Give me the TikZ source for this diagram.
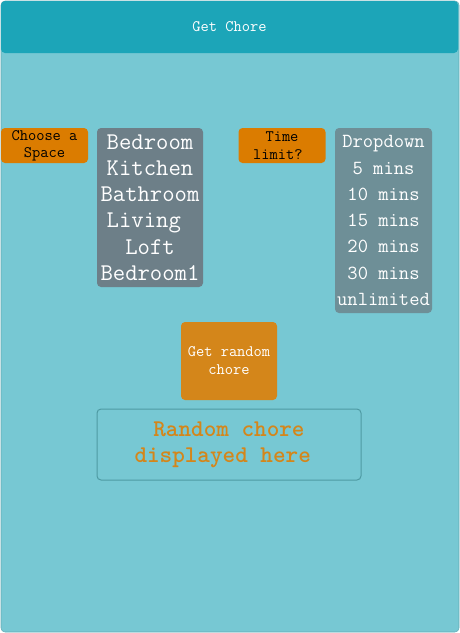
\documentclass[tikz,border=0pt]{standalone}
\renewcommand{\familydefault}{\ttdefault}
\usetikzlibrary{positioning}
\definecolor{pagecolour}{HTML}{77C8D3}
\definecolor{headcolour}{HTML}{1CA5B8}
\definecolor{labelcolour}{HTML}{DB7C00}
\definecolor{listcolour}{HTML}{6D7F88}
\definecolor{dropcolour}{HTML}{6E8F97}
\definecolor{buttoncolour}{HTML}{D4861A}
\definecolor{framecolour}{HTML}{4E9AA3}

\begin{document}
\begin{tikzpicture}[
  x=0.75pt, y=-0.75pt,
  box/.style = {rounded corners=3pt, inner sep=0pt, align=center},
  tag/.style = {box, fill=labelcolour, minimum width=65.25pt, minimum height=26.25pt, font=\fontsize{12}{13}\selectfont, text=black},
  list/.style = {box, text=white, minimum height=119.25pt}
  ]

  \useasboundingbox (0,0) rectangle (460,633);
  \filldraw[fill=pagecolour, draw=pagecolour!85!black, line width=0.4pt, rounded corners=3pt] (1,1) rectangle (459,632);

  \node[box, fill=headcolour, minimum width=342.75pt, minimum height=39pt, text=white, font=\fontsize{12}{12}\selectfont] (header) at (229.5,27) {Get Chore};

  \node[tag] (space) at (44.5,145.5) {Choose a\\Space};
  \node[list, fill=listcolour, minimum width=79.5pt, font=\fontsize{18}{19.65}\selectfont] (rooms) at (150,207.5)
    {Bedroom\\Kitchen\\Bathroom\\Living\phantom{x}\\Loft\\Bedroom1};

  \node[tag] (time) at (282,145.5) {Time\\limit?\phantom{x}};
  \node[list, fill=dropcolour, minimum width=72.75pt, minimum height=138.75pt, font=\fontsize{15}{19.7}\selectfont] (dropdown) at (383.5,220.5)
    {Dropdown\\5 mins\\10 mins\\15 mins\\20 mins\\30 mins\\unlimited};

  \node[box, fill=buttoncolour, minimum width=72pt, minimum height=58.5pt, text=white, font=\fontsize{12}{13.5}\selectfont] (button) at (229,361) {Get random\\chore};
  \node[box, draw=framecolour, line width=0.75pt, minimum width=198pt, minimum height=53.25pt, text=buttoncolour, font=\bfseries\fontsize{18}{19.5}\selectfont] (result) at (229,444.5)
    {Random chore\\displayed here\phantom{x}};

\end{tikzpicture}
\end{document}
